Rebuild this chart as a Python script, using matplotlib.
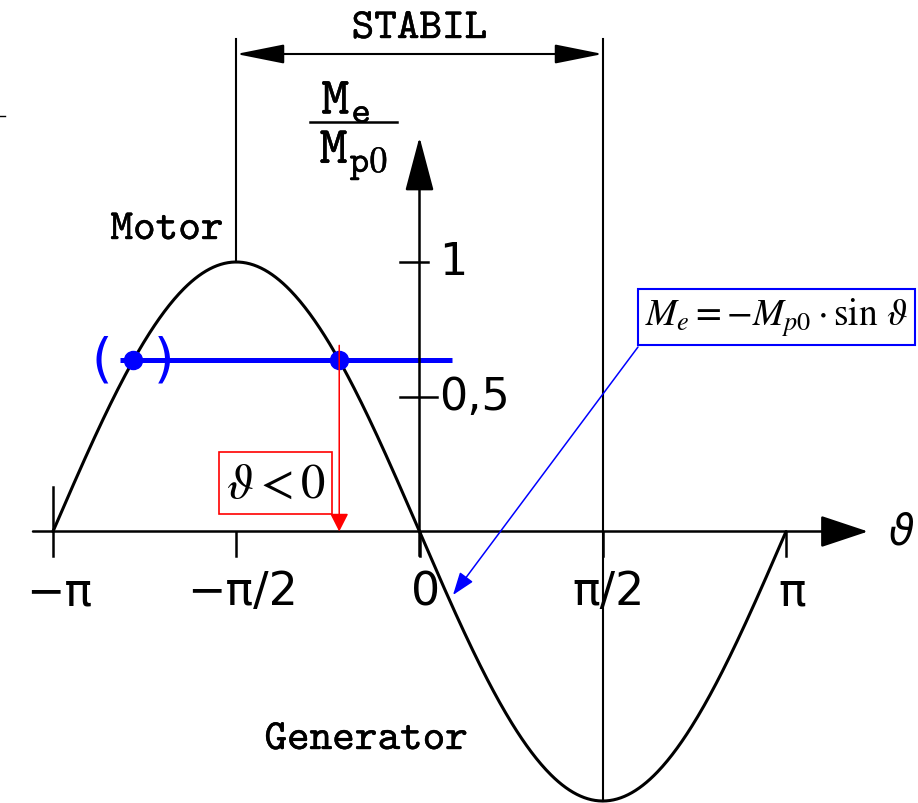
import numpy as np
import matplotlib.pyplot as plt
import matplotlib.patheffects as pe

# Torque-angle curve of a synchronous machine: Me/Mp0 = -sin(theta)
theta = np.linspace(-np.pi, np.pi, 600)
torque = -np.sin(theta)

load = 0.635            # load torque level (blue line)
x_ticks = [-np.pi, -np.pi / 2, 0, np.pi / 2, np.pi]
x_labels = ['−π', '−π/2', '0', 'π/2', 'π']
y_ticks = [1, 0.5]
y_labels = ['1', '0,5']

# stable and unstable operating points on the load line
theta_stable = -np.arcsin(load)
theta_unstable = -np.pi + np.arcsin(load)

# pixel scale of the drawing
sx = 116.67
sy = 269.5
x0, y0 = 419.5, 532.5
W, H = 918, 804


def px(n):
    return n / sx


def py(n):
    return n / sy


fig = plt.figure(figsize=(W / 100, H / 100), dpi=100)
ax = fig.add_axes([0, 0, 1, 1])
ax.set_xlim(-x0 / sx, (W - x0) / sx)
ax.set_ylim(-(H - y0) / sy, y0 / sy)
ax.axis('off')

black = '#000000'
blue = '#0000ff'
tt = 'cmtt10'
thick = [pe.withStroke(linewidth=0.3, foreground=black)]

# sine curve
ax.plot(theta, torque, color=black, lw=2.2, solid_capstyle='round', clip_on=False)

# axes with arrow heads
ax.annotate('', xy=(px(868 - x0), 0), xytext=(px(33 - x0), 0),
            arrowprops=dict(arrowstyle='-|>,head_length=1.5,head_width=0.5',
                            mutation_scale=20, lw=1.8, color=black,
                            shrinkA=0, shrinkB=0))
ax.annotate('', xy=(0, py(y0 - 138)), xytext=(0, py(y0 - 557)),
            arrowprops=dict(arrowstyle='-|>,head_length=1.7,head_width=0.45',
                            mutation_scale=20, lw=1.8, color=black,
                            shrinkA=0, shrinkB=0))
ax.text(px(901 - x0), 0, 'ϑ', fontsize=30, family='DejaVu Sans',
        ha='center', va='center', style='italic')

# x ticks
tick_lo = -py(557 - y0)
ax.plot([-np.pi, -np.pi], [tick_lo, py(y0 - 488)], color=black, lw=1.8)
for t in x_ticks[1:]:
    ax.plot([t, t], [0, tick_lo], color=black, lw=1.8)
for t, lab in zip(x_ticks, x_labels):
    ax.text(t + px(6), -py(593 - y0), lab, fontsize=33, family='DejaVu Sans',
            ha='center', va='center')

# y ticks
ax.plot([px(400 - x0), px(428 - x0)], [1, 1], color=black, lw=1.8)
ax.plot([px(400 - x0), px(437 - x0)], [0.5, 0.5], color=black, lw=1.8)
for v, lab in zip(y_ticks, y_labels):
    ax.text(px(439 - x0), v, lab, fontsize=32, family='DejaVu Sans',
            ha='left', va='center')

# y-axis label Me / Mp0
ax.text(px(346 - x0), py(y0 - 100), r'$\mathtt{M}_{\mathtt{e}}$', fontsize=38,
        math_fontfamily='cm', ha='center', va='center', path_effects=thick)
ax.plot([px(310 - x0), px(397 - x0)], [py(y0 - 123)] * 2, color=black, lw=1.8)
ax.text(px(354 - x0), py(y0 - 157), r'$\mathtt{M}_{\mathtt{p0}}$', fontsize=38,
        math_fontfamily='cm', ha='center', va='center', path_effects=thick)

# stability range
top = py(y0 - 40)
dim = py(y0 - 55)
ax.plot([-np.pi / 2, -np.pi / 2], [top, 1], color=black, lw=1.5)
ax.plot([np.pi / 2, np.pi / 2], [top, -1], color=black, lw=1.5)
ax.annotate('', xy=(np.pi / 2, dim), xytext=(-np.pi / 2, dim),
            arrowprops=dict(arrowstyle='<|-|>,head_length=1.5,head_width=0.3',
                            mutation_scale=20, lw=1.5, color=black,
                            shrinkA=0, shrinkB=0))
ax.text(0, py(y0 - 31), 'STABIL', fontsize=31, family=tt, ha='center',
        va='center', path_effects=thick)

ax.text(px(167 - x0), py(y0 - 232), 'Motor', fontsize=31, family=tt,
        ha='center', va='center', path_effects=thick)
ax.text(px(366 - x0), py(y0 - 742), 'Generator', fontsize=31, family=tt,
        ha='center', va='center', path_effects=thick)

# load line and operating points
ax.plot([px(120 - x0), px(452 - x0)], [load, load], color=blue, lw=3.6,
        solid_capstyle='butt')
ax.plot([theta_unstable, theta_stable], [load, load], 'o', color=blue, ms=13)
ax.text(theta_unstable - px(31), load, '(', fontsize=38, color=blue,
        family='DejaVu Sans', ha='center', va='center')
ax.text(theta_unstable + px(31), load, ')', fontsize=38, color=blue,
        family='DejaVu Sans', ha='center', va='center')

# load angle marker
ax.annotate('', xy=(theta_stable, 0), xytext=(theta_stable, load + py(15)),
            arrowprops=dict(arrowstyle='-|>,head_length=0.55,head_width=0.28',
                            mutation_scale=20, lw=1.1, color='red',
                            shrinkA=0, shrinkB=0))
ax.text(px(275.5 - x0), py(y0 - 484), r'$\vartheta < 0$', fontsize=35,
        math_fontfamily='stix', ha='center', va='center',
        bbox=dict(boxstyle='square,pad=0.14', fc='white', ec='red', lw=1.2))

# curve equation
ax.text(px(776.5 - x0), py(y0 - 318), r'$M_e = -M_{p0}\cdot\sin\,\vartheta$',
        fontsize=27, math_fontfamily='stix', ha='center', va='center',
        bbox=dict(boxstyle='square,pad=0.18', fc='white', ec=blue, lw=1.5))
ax.annotate('', xy=(px(453 - x0), py(y0 - 596)), xytext=(px(638 - x0), py(y0 - 348)),
            arrowprops=dict(arrowstyle='-|>,head_length=0.7,head_width=0.25',
                            mutation_scale=20, lw=1.1, color=blue,
                            shrinkA=0, shrinkB=0))

# small dash at the left margin
ax.plot([px(0 - x0), px(5 - x0)], [py(y0 - 117)] * 2, color=black, lw=1.0)

fig.savefig('out.png', dpi=100)
